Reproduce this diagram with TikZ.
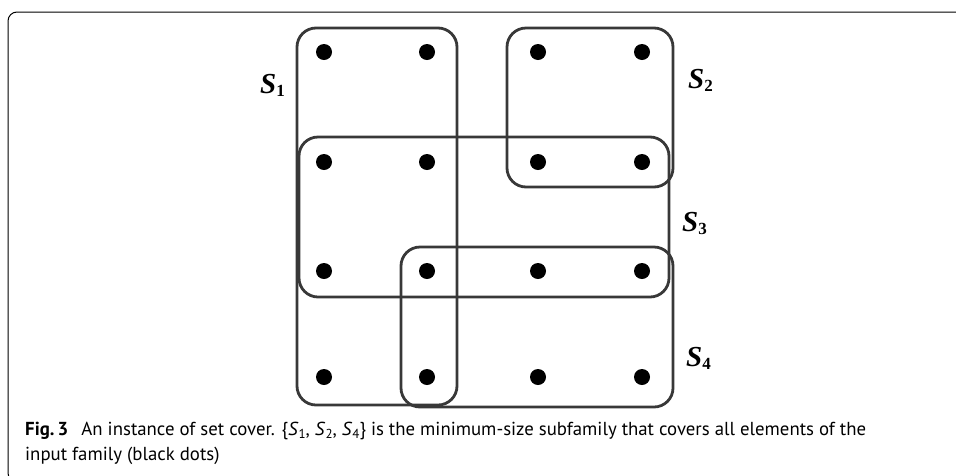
\documentclass[tikz,border=0pt]{standalone}
\usepackage{fontspec}
\setmainfont{Liberation Serif}
\newfontfamily\capfont{PT Sans}
\newcommand\capsub[2]{\textit{#1}\raisebox{-0.35ex}{\fontsize{13}{13}\selectfont #2}}
\tikzset{
  setbox/.style={draw=black!78, line width=2.8pt, rounded corners=19pt},
  elem/.style={circle, fill=black, inner sep=0pt, minimum size=16pt},
  setlabel/.style={anchor=base west, inner sep=0pt, font=\fontsize{29}{29}\selectfont\bfseries\itshape},
  captext/.style={anchor=base west, inner sep=0pt, font=\capfont\fontsize{18.8}{22}\selectfont},
  frame/.style={draw=black, line width=1pt, rounded corners=9pt}
}
\newcommand\lab[2]{#1\raisebox{-0.28ex}{\fontsize{17}{17}\selectfont\upshape #2}}
\begin{document}
\begin{tikzpicture}[x=1pt,y=-1pt]
\useasboundingbox (0,0) rectangle (956,475);
\begin{scope}
\clip (0,0) rectangle (956,475);
\draw[frame] (8,12) rectangle (990,482);
\end{scope}
% sets
\draw[setbox] (297,28) rectangle (457,405);
\draw[setbox] (507,28) rectangle (673,187);
\draw[setbox] (299,137) rectangle (669,297);
\draw[setbox] (401,247) rectangle (673,407);
% elements
\foreach \r/\y in {1/52,2/162,3/271,4/377}{
  \foreach \c/\x in {1/324,2/427,3/538,4/642}{
    \node[elem] (e\r\c) at (\x,\y) {};
  }
}
% labels
\node[setlabel] (l1) at (260,93) {\lab{S}{1}};
\node[setlabel] (l2) at (688,88) {\lab{S}{2}};
\node[setlabel] (l3) at (682,231) {\lab{S}{3}};
\node[setlabel] (l4) at (686,366) {\lab{S}{4}};
% caption
\node[captext] (cap1) at (25,435) {\textbf{Fig.\,3}\hspace{0.7em}An instance of set cover. \{\capsub{S}{1}, \capsub{S}{2}, \capsub{S}{4}\} is the minimum-size subfamily that covers all elements of the};
\node[captext] (cap2) at (25,460) {input family (black dots)};
\end{tikzpicture}
\end{document}
